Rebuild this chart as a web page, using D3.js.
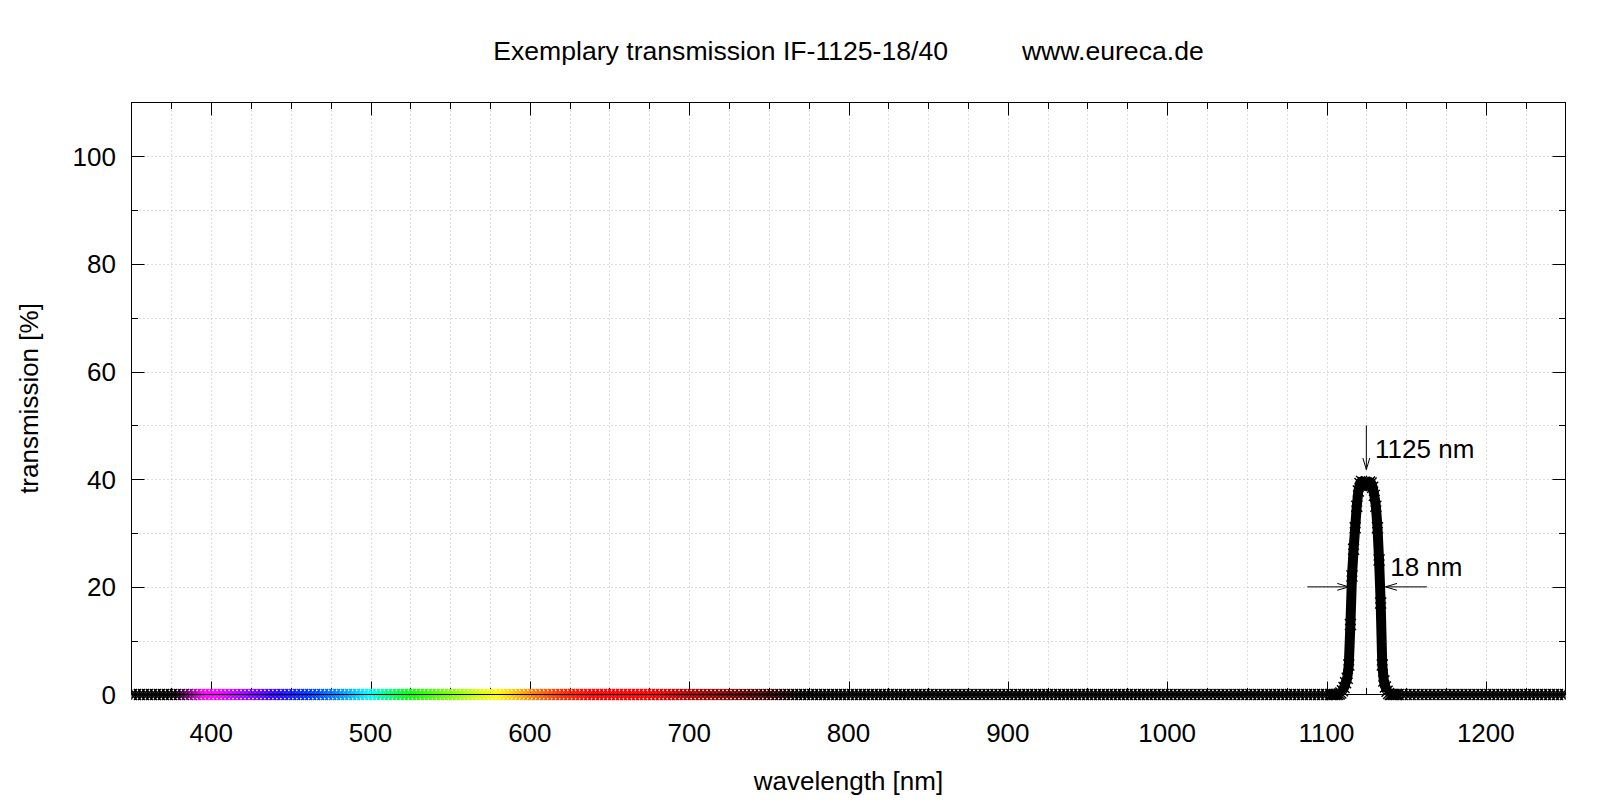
<!DOCTYPE html>
<html>
<head>
<meta charset="utf-8">
<script src="https://cdn.jsdelivr.net/npm/d3@7"></script>
<style>
  html, body { margin: 0; padding: 0; background: #fff; }
  svg { display: block; }
  text { font-family: "Liberation Sans", Arial, Helvetica, sans-serif; fill: #000; }
</style>
</head>
<body>
<svg id="chart" width="1610" height="805"></svg>
<script>
// ---------------- data ----------------
const titleText = "Exemplary transmission IF-1125-18/40          www.eureca.de";
const xLabelText = "wavelength [nm]";
const yLabelText = "transmission [%]";

const xDomain = [350, 1250];
const yDomain = [0, 110];
const xMajorTicks = [400, 500, 600, 700, 800, 900, 1000, 1100, 1200];
const xMinorStep = 25;
const yMajorTicks = [0, 20, 40, 60, 80, 100];
const yMinorStep = 10;

// baseline samples: transmission 0 every 2.5 nm outside the pass band
const baselineStart = 350;
const baselineEnd = 1250;
const baselineStep = 2.5;
const baselineValue = 0;

// pass band samples (nm, %)
const peakWavelengths = [1103, 1104, 1105, 1106, 1107, 1108, 1109, 1110, 1111, 1112, 1113, 1114, 1115, 1116, 1117, 1118, 1119, 1120,
  1121, 1122, 1123, 1124, 1125, 1126, 1127, 1128, 1129, 1130, 1131, 1132, 1133, 1134, 1135, 1136, 1137, 1138, 1139, 1140, 1141, 1142, 1143, 1144, 1145];
const peakTransmission = [0, 0, 0, 0, 0, 0.1, 0.3, 0.7, 1.3, 2.2, 3.0, 5.5, 13, 22, 27, 31, 35, 37.8,
  39.2, 39.6, 39.4, 38.9, 38.8, 39.1, 39.5, 39.3, 38.5, 37, 35, 31, 25, 17, 5.5, 2.5, 1.4, 0.6, 0.2, 0, 0, 0, 0, 0, 0];

// annotations (data coordinates)
const centerLabel = "1125 nm";
const widthLabel = "18 nm";
const centerArrow = { from: [1125, 50], to: [1125, 41.8] };
const widthArrowLeft = { from: [1088, 20], to: [1114, 20] };
const widthArrowRight = { from: [1163, 20], to: [1137, 20] };
const centerLabelPos = [1130.5, 44];
const widthLabelPos = [1140, 22];

// spectrum colour stops (nm -> colour)
const spectrumStops = [350, 378, 386, 396, 406, 420, 440, 460, 478, 490, 500, 510, 525, 545, 568, 580, 592, 605, 622, 640, 675, 700, 725, 750, 770, 1250];
const spectrumColors = ["#000000", "#000000", "#700070", "#ff00ff", "#f000ff", "#a000ff", "#3000ff", "#0030ff", "#0080ff", "#00c0ff", "#00ffff", "#00ff90", "#00ff00", "#60ff00", "#d0ff00", "#ffff00", "#ffc000", "#ff7000", "#ff2800", "#ff0000", "#ff0000", "#b00000", "#780000", "#380000", "#000000", "#000000"];

// ---------------- layout ----------------
const W = 1610, H = 805;
const plot = { left: 131.5, right: 1565.5, top: 102.5, bottom: 694.5 };
const FONT = 26;

const svg = d3.select("#chart");
svg.append("rect").attr("width", W).attr("height", H).attr("fill", "#fff");

const x = d3.scaleLinear().domain(xDomain).range([plot.left, plot.right]);
const y = d3.scaleLinear().domain(yDomain).range([plot.bottom, plot.top]);
const color = d3.scaleLinear().domain(spectrumStops).range(spectrumColors).interpolate(d3.interpolateRgb).clamp(true);

// assemble points
const baseline = d3.range(baselineStart, baselineEnd + 0.001, baselineStep)
  .filter(w => w < peakWavelengths[0] || w > peakWavelengths[peakWavelengths.length - 1])
  .map(w => ({ w, t: baselineValue }));
const peak = peakWavelengths.map((w, i) => ({ w, t: peakTransmission[i] }));
const points = baseline.concat(peak).sort((a, b) => a.w - b.w);

// clip
svg.append("defs").append("clipPath").attr("id", "plotclipx")
  .append("rect")
  .attr("x", plot.left).attr("y", 0)
  .attr("width", plot.right - plot.left).attr("height", H);

// ---------------- grid ----------------
const xGridVals = d3.range(xDomain[0] + xMinorStep, xDomain[1], xMinorStep);
const yGridVals = d3.range(yDomain[0] + yMinorStep, yDomain[1], yMinorStep);
const grid = svg.append("g").attr("stroke", "#bdbdbd").attr("stroke-width", 1).attr("stroke-dasharray", "1,3");
grid.selectAll("line.gx").data(xGridVals).join("line")
  .attr("x1", d => Math.round(x(d)) + 0.5).attr("x2", d => Math.round(x(d)) + 0.5)
  .attr("y1", plot.top).attr("y2", plot.bottom);
grid.selectAll("line.gy").data(yGridVals).join("line")
  .attr("y1", d => Math.round(y(d)) + 0.5).attr("y2", d => Math.round(y(d)) + 0.5)
  .attr("x1", plot.left).attr("x2", plot.right);

// ---------------- ticks ----------------
const MAJ = 13, MIN = 6.5;
const ticks = svg.append("g").attr("stroke", "#000").attr("stroke-width", 1);
const xTickVals = d3.range(xDomain[0] + xMinorStep, xDomain[1], xMinorStep);
xTickVals.forEach(v => {
  const len = xMajorTicks.includes(v) ? MAJ : MIN;
  const px = Math.round(x(v)) + 0.5;
  ticks.append("line").attr("x1", px).attr("x2", px).attr("y1", plot.bottom).attr("y2", plot.bottom - len);
  ticks.append("line").attr("x1", px).attr("x2", px).attr("y1", plot.top).attr("y2", plot.top + len);
});
const yTickVals = d3.range(yDomain[0] + yMinorStep, yDomain[1], yMinorStep);
yTickVals.forEach(v => {
  const len = yMajorTicks.includes(v) ? MAJ : MIN;
  const py = Math.round(y(v)) + 0.5;
  ticks.append("line").attr("y1", py).attr("y2", py).attr("x1", plot.left).attr("x2", plot.left + len);
  ticks.append("line").attr("y1", py).attr("y2", py).attr("x1", plot.right).attr("x2", plot.right - len);
});

// ---------------- data marks ----------------
const R = 5.5;
const starPath = `M${-R},0H${R}M0,${-R}V${R}M${-R},${-R}L${R},${R}M${-R},${R}L${R},${-R}`;

const marks = svg.append("g").attr("clip-path", "url(#plotclipx)");

// thick pass-band curve
const bandPts = peak.filter(p => p.t >= 0.6);
marks.append("path")
  .datum(bandPts)
  .attr("fill", "none")
  .attr("stroke", "#000")
  .attr("stroke-width", 10)
  .attr("stroke-linejoin", "round")
  .attr("d", d3.line().x(d => x(d.w)).y(d => y(d.t)));

// star markers
marks.selectAll("path.star").data(points).join("path")
  .attr("class", "star")
  .attr("transform", d => `translate(${x(d.w)},${y(d.t)})`)
  .attr("d", starPath)
  .attr("fill", "none")
  .attr("stroke", d => color(d.w))
  .attr("stroke-width", 1.4);

// zero axis
svg.append("line")
  .attr("x1", plot.left).attr("x2", plot.right)
  .attr("y1", y(0)).attr("y2", y(0))
  .attr("stroke", "#000").attr("stroke-width", 1.2);

// border
svg.append("rect")
  .attr("x", plot.left).attr("y", plot.top)
  .attr("width", plot.right - plot.left).attr("height", plot.bottom - plot.top)
  .attr("fill", "none").attr("stroke", "#000").attr("stroke-width", 1);

// ---------------- tick labels ----------------
svg.append("g").selectAll("text").data(xMajorTicks).join("text")
  .attr("x", d => x(d)).attr("y", 742)
  .attr("text-anchor", "middle").attr("font-size", FONT)
  .text(d => d);
svg.append("g").selectAll("text").data(yMajorTicks).join("text")
  .attr("x", 116).attr("y", d => y(d) + 9.5)
  .attr("text-anchor", "end").attr("font-size", FONT)
  .text(d => d);

// ---------------- titles ----------------
svg.append("text")
  .attr("x", (plot.left + plot.right) / 2).attr("y", 60)
  .attr("text-anchor", "middle").attr("font-size", 26.6)
  .style("white-space", "pre")
  .text(titleText);
svg.append("text")
  .attr("x", (plot.left + plot.right) / 2).attr("y", 790)
  .attr("text-anchor", "middle").attr("font-size", FONT)
  .text(xLabelText);
svg.append("text")
  .attr("transform", `translate(38,${(plot.top + plot.bottom) / 2}) rotate(-90)`)
  .attr("text-anchor", "middle").attr("font-size", FONT)
  .text(yLabelText);

// ---------------- annotations ----------------
function arrow(a) {
  const x1 = x(a.from[0]), y1 = y(a.from[1]), x2 = x(a.to[0]), y2 = y(a.to[1]);
  const g = svg.append("g").attr("stroke", "#000").attr("stroke-width", 1).attr("fill", "none");
  g.append("line").attr("x1", x1).attr("y1", y1).attr("x2", x2).attr("y2", y2);
  const ang = Math.atan2(y2 - y1, x2 - x1);
  const L = 12, spread = 0.29;
  const p1 = [x2 - L * Math.cos(ang - spread), y2 - L * Math.sin(ang - spread)];
  const p2 = [x2 - L * Math.cos(ang + spread), y2 - L * Math.sin(ang + spread)];
  g.append("path").attr("d", `M${p1[0]},${p1[1]}L${x2},${y2}L${p2[0]},${p2[1]}`);
}
arrow(centerArrow);
arrow(widthArrowLeft);
arrow(widthArrowRight);

svg.append("text")
  .attr("x", x(centerLabelPos[0])).attr("y", y(centerLabelPos[1]))
  .attr("font-size", FONT).text(centerLabel);
svg.append("text")
  .attr("x", x(widthLabelPos[0])).attr("y", y(widthLabelPos[1]))
  .attr("font-size", FONT).text(widthLabel);
</script>
</body>
</html>
